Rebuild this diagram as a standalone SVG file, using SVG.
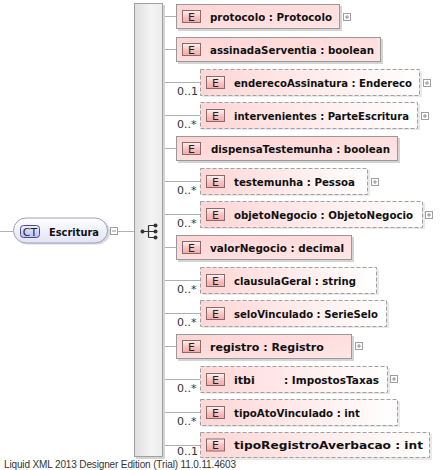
<svg xmlns="http://www.w3.org/2000/svg" width="444" height="470" viewBox="0 0 444 470">
<defs>
<linearGradient id="gBar" x1="0" y1="0" x2="1" y2="0"><stop offset="0" stop-color="#dedede"/><stop offset="0.6" stop-color="#f4f4f4"/><stop offset="1" stop-color="#ececec"/></linearGradient>
<linearGradient id="gSolid" x1="0" y1="0" x2="1" y2="1"><stop offset="0" stop-color="#ffd4d4"/><stop offset="1" stop-color="#ffe6e6"/></linearGradient>
<linearGradient id="gDash" x1="0" y1="0" x2="1" y2="0"><stop offset="0" stop-color="#ffd6d6"/><stop offset="1" stop-color="#ffffff"/></linearGradient>
<linearGradient id="gBadge" x1="0" y1="0" x2="0" y2="1"><stop offset="0" stop-color="#fff4f4"/><stop offset="0.5" stop-color="#ffc4c4"/><stop offset="1" stop-color="#f6a8a8"/></linearGradient>
<linearGradient id="gRoot" x1="0" y1="0" x2="0" y2="1"><stop offset="0" stop-color="#ffffff"/><stop offset="1" stop-color="#e2e2f6"/></linearGradient>
<linearGradient id="gCT" x1="0" y1="0" x2="0" y2="1"><stop offset="0" stop-color="#f0f0ff"/><stop offset="1" stop-color="#bcbcf0"/></linearGradient>
</defs>
<style>
.bar{fill:url(#gBar);stroke:#a0a0a0;stroke-width:1}
.sh{fill:#d4d4d4}
.solid{fill:url(#gSolid);stroke:#999;stroke-width:1}
.dash{fill:url(#gDash);stroke:#a0a0a0;stroke-width:1;stroke-dasharray:4 2}
.badge{fill:url(#gBadge);stroke:#8a6a6a;stroke-width:1}
.bt{font-family:"DejaVu Sans",sans-serif;font-size:11px;fill:#222;text-anchor:middle}
.lbl{font-family:"DejaVu Sans",Verdana,sans-serif;font-weight:bold;font-size:11px;fill:#111}
.card{font-family:"DejaVu Sans",sans-serif;font-size:11px;fill:#333}
.con{stroke:#b0b0b0;stroke-width:1;fill:none}
.ico{fill:#fff;stroke:#a0a0a0;stroke-width:1}
.icl{stroke:#909090;stroke-width:1}
.foot{font-family:"Liberation Sans",Arial,sans-serif;font-size:10px;fill:#333}
</style>
<g id="connectors">
<line class="con" x1="0" y1="231.5" x2="13" y2="231.5"/>
<line class="con" x1="118" y1="231.5" x2="134" y2="231.5"/>
<line class="con" x1="163" y1="16.5" x2="176" y2="16.5"/>
<line class="con" x1="163" y1="49.5" x2="176" y2="49.5"/>
<line class="con" x1="163" y1="82.5" x2="200" y2="82.5"/>
<line class="con" x1="163" y1="115.5" x2="200" y2="115.5"/>
<line class="con" x1="163" y1="148.5" x2="176" y2="148.5"/>
<line class="con" x1="163" y1="181.5" x2="200" y2="181.5"/>
<line class="con" x1="163" y1="214.5" x2="200" y2="214.5"/>
<line class="con" x1="163" y1="247.5" x2="176" y2="247.5"/>
<line class="con" x1="163" y1="280.5" x2="200" y2="280.5"/>
<line class="con" x1="163" y1="313.5" x2="200" y2="313.5"/>
<line class="con" x1="163" y1="346.5" x2="176" y2="346.5"/>
<line class="con" x1="163" y1="379.5" x2="200" y2="379.5"/>
<line class="con" x1="163" y1="412.5" x2="200" y2="412.5"/>
<line class="con" x1="163" y1="445.5" x2="200" y2="445.5"/>
</g>
<g id="root">
<rect x="15" y="219.5" width="95" height="25" rx="12.5" fill="#d8d8d8"/>
<rect x="13.5" y="218" width="94" height="25" rx="12.5" fill="url(#gRoot)" stroke="#a0a0b8"/>
<rect x="20.5" y="225.5" width="19" height="12" rx="3" fill="url(#gCT)" stroke="#4a4a90"/>
<text class="bt" x="30" y="235.5" fill="#224">CT</text>
<text x="49" y="235.5" font-family="DejaVu Sans, Verdana, sans-serif" font-weight="bold" font-size="11" fill="#111" textLength="50" lengthAdjust="spacingAndGlyphs">Escritura</text>
<rect class="ico" x="110.5" y="227.5" width="7" height="7"/>
<line class="icl" x1="112" y1="231" x2="116" y2="231"/>
</g>
<g id="sequence">
<rect x="136" y="5" width="29" height="454" class="sh"/>
<rect class="bar" x="134.5" y="3.5" width="28" height="453"/>
<g stroke="#333" stroke-width="1.2" fill="none">
<path d="M142.5 231.5 H148.5 M148.5 225.5 V237.5 M148.5 225.5 H155 M148.5 231.5 H155 M148.5 237.5 H155"/>
</g>
<g fill="#333"><circle cx="142.5" cy="231.5" r="2"/><circle cx="155.5" cy="225.5" r="2"/><circle cx="155.5" cy="231.5" r="2"/><circle cx="155.5" cy="237.5" r="2"/></g>
</g>
<g id="protocolo">
<rect class="sh" x="178" y="6" width="164" height="25"/>
<rect class="solid" x="176.5" y="4.5" width="163" height="24"/>
<rect class="badge" x="182.5" y="10.5" width="18" height="12"/><text class="bt" x="191.5" y="20.5">E</text>
<text class="lbl" x="210" y="20.5" textLength="122" lengthAdjust="spacingAndGlyphs">protocolo : Protocolo</text>
<rect class="ico" x="343.5" y="13.5" width="7" height="7"/><path class="icl" d="M345 17 H349 M347 15 V19"/>
</g>
<g id="assinadaServentia">
<rect class="sh" x="178" y="39" width="205" height="25"/>
<rect class="solid" x="176.5" y="37.5" width="204" height="24"/>
<rect class="badge" x="182.5" y="43.5" width="18" height="12"/><text class="bt" x="191.5" y="53.5">E</text>
<text class="lbl" x="210" y="53.5" textLength="164" lengthAdjust="spacingAndGlyphs">assinadaServentia : boolean</text>
</g>
<g id="enderecoAssinatura">
<text class="card" x="177" y="95">0..1</text>
<rect class="sh" x="202" y="71" width="220" height="26" opacity="0.5"/>
<rect class="dash" x="200.5" y="69.5" width="219" height="26"/>
<rect class="badge" x="206.5" y="76.5" width="18" height="12"/><text class="bt" x="215.5" y="86.5">E</text>
<text class="lbl" x="234" y="86.5" textLength="178" lengthAdjust="spacingAndGlyphs">enderecoAssinatura : Endereco</text>
<rect class="ico" x="423.5" y="79.5" width="7" height="7"/><path class="icl" d="M425 83 H429 M427 81 V85"/>
</g>
<g id="intervenientes">
<text class="card" x="177" y="128">0..*</text>
<rect class="sh" x="202" y="104" width="218" height="26" opacity="0.5"/>
<rect class="dash" x="200.5" y="102.5" width="217" height="26"/>
<rect class="badge" x="206.5" y="109.5" width="18" height="12"/><text class="bt" x="215.5" y="119.5">E</text>
<text class="lbl" x="234" y="119.5" textLength="175" lengthAdjust="spacingAndGlyphs">intervenientes : ParteEscritura</text>
<rect class="ico" x="421.5" y="112.5" width="7" height="7"/><path class="icl" d="M423 116 H427 M425 114 V118"/>
</g>
<g id="dispensaTestemunha">
<rect class="sh" x="178" y="138" width="222" height="25"/>
<rect class="solid" x="176.5" y="136.5" width="221" height="24"/>
<rect class="badge" x="182.5" y="142.5" width="18" height="12"/><text class="bt" x="191.5" y="152.5">E</text>
<text class="lbl" x="211" y="152.5" textLength="179" lengthAdjust="spacingAndGlyphs">dispensaTestemunha : boolean</text>
</g>
<g id="testemunha">
<text class="card" x="177" y="194">0..*</text>
<rect class="sh" x="202" y="170" width="168" height="26" opacity="0.5"/>
<rect class="dash" x="200.5" y="168.5" width="167" height="26"/>
<rect class="badge" x="206.5" y="175.5" width="18" height="12"/><text class="bt" x="215.5" y="185.5">E</text>
<text class="lbl" x="234" y="185.5" textLength="121" lengthAdjust="spacingAndGlyphs">testemunha : Pessoa</text>
<rect class="ico" x="371.5" y="178.5" width="7" height="7"/><path class="icl" d="M373 182 H377 M375 180 V184"/>
</g>
<g id="objetoNegocio">
<text class="card" x="177" y="227">0..*</text>
<rect class="sh" x="202" y="203" width="223" height="26" opacity="0.5"/>
<rect class="dash" x="200.5" y="201.5" width="222" height="26"/>
<rect class="badge" x="206.5" y="208.5" width="18" height="12"/><text class="bt" x="215.5" y="218.5">E</text>
<text class="lbl" x="234" y="218.5" textLength="179" lengthAdjust="spacingAndGlyphs">objetoNegocio : ObjetoNegocio</text>
<rect class="ico" x="425.5" y="211.5" width="7" height="7"/><path class="icl" d="M427 215 H431 M429 213 V217"/>
</g>
<g id="valorNegocio">
<rect class="sh" x="178" y="237" width="176" height="25"/>
<rect class="solid" x="176.5" y="235.5" width="175" height="24"/>
<rect class="badge" x="182.5" y="241.5" width="18" height="12"/><text class="bt" x="191.5" y="251.5">E</text>
<text class="lbl" x="210" y="251.5" textLength="134" lengthAdjust="spacingAndGlyphs">valorNegocio : decimal</text>
</g>
<g id="clausulaGeral">
<text class="card" x="177" y="293">0..*</text>
<rect class="sh" x="202" y="269" width="177" height="26" opacity="0.5"/>
<rect class="dash" x="200.5" y="267.5" width="176" height="26"/>
<rect class="badge" x="206.5" y="274.5" width="18" height="12"/><text class="bt" x="215.5" y="284.5">E</text>
<text class="lbl" x="234" y="284.5" textLength="122" lengthAdjust="spacingAndGlyphs">clausulaGeral : string</text>
</g>
<g id="seloVinculado">
<text class="card" x="177" y="326">0..*</text>
<rect class="sh" x="202" y="302" width="187" height="26" opacity="0.5"/>
<rect class="dash" x="200.5" y="300.5" width="186" height="26"/>
<rect class="badge" x="206.5" y="307.5" width="18" height="12"/><text class="bt" x="215.5" y="317.5">E</text>
<text class="lbl" x="234" y="317.5" textLength="144" lengthAdjust="spacingAndGlyphs">seloVinculado : SerieSelo</text>
</g>
<g id="registro">
<rect class="sh" x="178" y="336" width="176" height="25"/>
<rect class="solid" x="176.5" y="334.5" width="175" height="24"/>
<rect class="badge" x="182.5" y="340.5" width="18" height="12"/><text class="bt" x="191.5" y="350.5">E</text>
<text class="lbl" x="210" y="350.5">registro : Registro</text>
<rect class="ico" x="355.5" y="342.5" width="7" height="7"/><path class="icl" d="M357 346 H361 M359 344 V348"/>
</g>
<g id="itbi">
<text class="card" x="177" y="392">0..*</text>
<rect class="sh" x="202" y="368" width="188" height="26" opacity="0.5"/>
<rect class="dash" x="200.5" y="366.5" width="187" height="26"/>
<rect class="badge" x="206.5" y="373.5" width="18" height="12"/><text class="bt" x="215.5" y="383.5">E</text>
<text class="lbl" x="234" y="383.5">itbi</text>
<text class="lbl" x="284" y="383.5" textLength="95" lengthAdjust="spacingAndGlyphs">: ImpostosTaxas</text>
<rect class="ico" x="390.5" y="375.5" width="7" height="7"/><path class="icl" d="M392 379 H396 M394 377 V381"/>
</g>
<g id="tipoAtoVinculado">
<text class="card" x="177" y="425">0..*</text>
<rect class="sh" x="202" y="401" width="198" height="26" opacity="0.5"/>
<rect class="dash" x="200.5" y="399.5" width="197" height="26"/>
<rect class="badge" x="206.5" y="406.5" width="18" height="12"/><text class="bt" x="215.5" y="416.5">E</text>
<text class="lbl" x="234" y="416.5" textLength="126" lengthAdjust="spacingAndGlyphs">tipoAtoVinculado : int</text>
</g>
<g id="tipoRegistroAverbacao">
<text class="card" x="177" y="455">0..1</text>
<rect class="sh" x="202" y="434" width="230" height="26" opacity="0.5"/>
<rect class="dash" x="200.5" y="432.5" width="229" height="25"/>
<rect class="badge" x="206.5" y="439" width="18" height="12"/><text class="bt" x="215.5" y="449">E</text>
<text class="lbl" x="234" y="449" textLength="189" lengthAdjust="spacingAndGlyphs">tipoRegistroAverbacao : int</text>
</g>
<text class="foot" x="4" y="468" textLength="232">Liquid XML 2013 Designer Edition (Trial) 11.0.11.4603</text>
</svg>
